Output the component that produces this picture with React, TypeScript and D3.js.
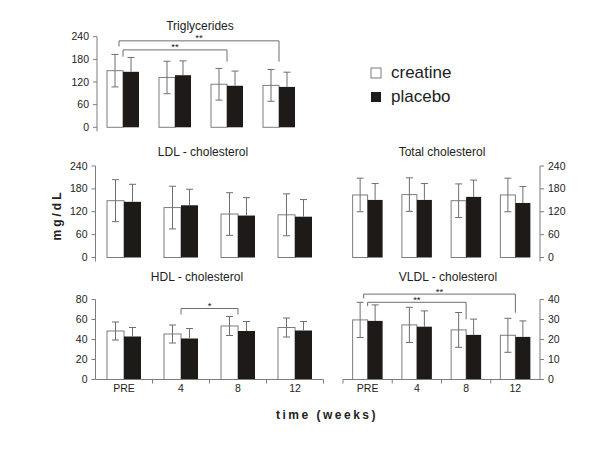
import React from "react";
import * as d3 from "d3";

// ---------- data ----------
const weeks = ["PRE", "4", "8", "12"];

const trigCreatine = [150, 132, 114, 111];
const trigCreatineSD = [43, 43, 42, 42];
const trigPlacebo = [147, 138, 110, 107];
const trigPlaceboSD = [38, 38, 39, 39];

const ldlCreatine = [149, 131, 114, 112];
const ldlCreatineSD = [55, 56, 56, 55];
const ldlPlacebo = [146, 137, 110, 107];
const ldlPlaceboSD = [46, 42, 47, 45];

const totalCreatine = [164, 165, 149, 164];
const totalCreatineSD = [44, 44, 44, 44];
const totalPlacebo = [151, 151, 159, 143];
const totalPlaceboSD = [43, 43, 44, 43];

const hdlCreatine = [48.5, 45.5, 53.5, 52];
const hdlCreatineSD = [9, 9, 9.5, 9.5];
const hdlPlacebo = [43, 41, 48.5, 49];
const hdlPlaceboSD = [9, 10, 9.5, 9];

const vldlCreatine = [29.8, 27.3, 24.8, 22.1];
const vldlCreatineSD = [8.8, 8.8, 8.7, 8.5];
const vldlPlacebo = [29.3, 26.4, 22.3, 21.3];
const vldlPlaceboSD = [8, 7.9, 7.9, 8];

const cholTicks = [0, 60, 120, 180, 240];
const hdlTicks = [0, 20, 40, 60, 80];
const vldlTicks = [0, 10, 20, 30, 40];

// significance brackets: from group, to group, level, left end, right end (data units)
const trigBrackets = [
  { from: 0, to: 3, level: 229, endFrom: 214, endTo: 174, label: "**", outer: true },
  { from: 0, to: 2, level: 205, endFrom: 187, endTo: 174, label: "**", outer: false },
];
const hdlBrackets = [
  { from: 1, to: 2, level: 71, endFrom: 65, endTo: 65, label: "*", outer: false },
];
const vldlBrackets = [
  { from: 0, to: 3, level: 42.7, endFrom: 40.6, endTo: 33.4, label: "**", outer: true },
  { from: 0, to: 2, level: 38.6, endFrom: 36.7, endTo: 30.1, label: "**", outer: false },
];

// ---------- style ----------
const FONT = "'Liberation Sans', Arial, Helvetica, sans-serif";
const AXIS = "#7d7d7d";
const ERR = "#6f6f6f";
const BLACK = "#1e1a18";
const TEXT = "#222";

type Bracket = { from: number; to: number; level: number; endFrom: number; endTo: number; label: string; outer: boolean };

type PanelDef = {
  title: string;
  creatine: number[];
  creatineSD: number[];
  placebo: number[];
  placeboSD: number[];
  ticks: number[];
  brackets: Bracket[];
  x0: number;
  x1: number;
  y0: number;
  y1: number;
  barW: number;
  axisSide: "left" | "right";
  xAxis: boolean;
  titleX: number;
  titleY: number;
};

const panels: PanelDef[] = [
  {
    title: "Triglycerides",
    creatine: trigCreatine, creatineSD: trigCreatineSD,
    placebo: trigPlacebo, placeboSD: trigPlaceboSD,
    ticks: cholTicks, brackets: trigBrackets,
    x0: 97, x1: 305, y0: 127.3, y1: 36.7, barW: 16,
    axisSide: "left", xAxis: false, titleX: 200, titleY: 26,
  },
  {
    title: "LDL - cholesterol",
    creatine: ldlCreatine, creatineSD: ldlCreatineSD,
    placebo: ldlPlacebo, placeboSD: ldlPlaceboSD,
    ticks: cholTicks, brackets: [],
    x0: 95.5, x1: 323.5, y0: 257.5, y1: 166, barW: 17,
    axisSide: "left", xAxis: false, titleX: 203, titleY: 152,
  },
  {
    title: "Total cholesterol",
    creatine: totalCreatine, creatineSD: totalCreatineSD,
    placebo: totalPlacebo, placeboSD: totalPlaceboSD,
    ticks: cholTicks, brackets: [],
    x0: 343, x1: 540, y0: 257.5, y1: 166, barW: 15,
    axisSide: "right", xAxis: false, titleX: 442, titleY: 152,
  },
  {
    title: "HDL - cholesterol",
    creatine: hdlCreatine, creatineSD: hdlCreatineSD,
    placebo: hdlPlacebo, placeboSD: hdlPlaceboSD,
    ticks: hdlTicks, brackets: hdlBrackets,
    x0: 95.5, x1: 323.5, y0: 379.5, y1: 299.5, barW: 17,
    axisSide: "left", xAxis: true, titleX: 197, titleY: 277,
  },
  {
    title: "VLDL - cholesterol",
    creatine: vldlCreatine, creatineSD: vldlCreatineSD,
    placebo: vldlPlacebo, placeboSD: vldlPlaceboSD,
    ticks: vldlTicks, brackets: vldlBrackets,
    x0: 343, x1: 540, y0: 379.5, y1: 299.5, barW: 15,
    axisSide: "right", xAxis: true, titleX: 448, titleY: 277,
  },
];

function Panel({ p }: { p: PanelDef }) {
  const x = d3.scaleBand<string>().domain(weeks).range([p.x0, p.x1]);
  const max = p.ticks[p.ticks.length - 1];
  const y = d3.scaleLinear().domain([0, max]).range([p.y0, p.y1]);
  const axisX = p.axisSide === "left" ? p.x0 : p.x1;
  const dir = p.axisSide === "left" ? -1 : 1;
  const cap = 3.5;
  const cx = (w: string) => (x(w) as number) + x.bandwidth() / 2;

  return (
    <g>
      <text x={p.titleX} y={p.titleY + 4.3} textAnchor="middle" fontSize={12} fontFamily={FONT} fill={TEXT}>
        {p.title}
      </text>

      {/* bars */}
      {weeks.map((w, i) => {
        const c = cx(w);
        const cv = p.creatine[i];
        const pv = p.placebo[i];
        const cs = p.creatineSD[i];
        const ps = p.placeboSD[i];
        const cxBar = c - p.barW / 2;
        const pxBar = c + p.barW / 2;
        return (
          <g key={w}>
            <rect x={c - p.barW} y={y(cv)} width={p.barW} height={y(0) - y(cv)} fill="#fff" stroke={AXIS} strokeWidth={1} />
            <rect x={c} y={y(pv)} width={p.barW} height={y(0) - y(pv)} fill={BLACK} />
            {/* creatine error bar (both directions) */}
            <line x1={cxBar} x2={cxBar} y1={y(cv + cs)} y2={y(cv - cs)} stroke={ERR} strokeWidth={1} />
            <line x1={cxBar - cap} x2={cxBar + cap} y1={y(cv + cs)} y2={y(cv + cs)} stroke={ERR} strokeWidth={1} />
            <line x1={cxBar - cap} x2={cxBar + cap} y1={y(cv - cs)} y2={y(cv - cs)} stroke={ERR} strokeWidth={1} />
            {/* placebo error bar (upper) */}
            <line x1={pxBar} x2={pxBar} y1={y(pv + ps)} y2={y(pv)} stroke={ERR} strokeWidth={1} />
            <line x1={pxBar - cap} x2={pxBar + cap} y1={y(pv + ps)} y2={y(pv + ps)} stroke={ERR} strokeWidth={1} />
          </g>
        );
      })}

      {/* y axis */}
      <line x1={axisX} x2={axisX} y1={y(max)} y2={p.xAxis ? y(0) : y(0) + 4} stroke={AXIS} strokeWidth={1} />
      {p.ticks.map((t) => (
        <g key={t}>
          <line x1={axisX} x2={axisX + dir * 4} y1={y(t)} y2={y(t)} stroke={AXIS} strokeWidth={1} />
          <text
            x={axisX + dir * 8}
            y={y(t) + 3.6}
            textAnchor={p.axisSide === "left" ? "end" : "start"}
            fontSize={10.5}
            fontFamily={FONT}
            fill={TEXT}
          >
            {t}
          </text>
        </g>
      ))}

      {/* x axis */}
      {p.xAxis && (
        <g>
          <line x1={p.x0} x2={p.x1} y1={y(0)} y2={y(0)} stroke={AXIS} strokeWidth={1} />
          {weeks.map((w, i) => {
            const bx = p.axisSide === "left" ? (x(w) as number) + x.bandwidth() : (x(w) as number);
            return <line key={"t" + i} x1={bx} x2={bx} y1={y(0)} y2={y(0) + 4} stroke={AXIS} strokeWidth={1} />;
          })}
          {weeks.map((w) => (
            <text key={"l" + w} x={cx(w)} y={y(0) + 12} textAnchor="middle" fontSize={10.5} fontFamily={FONT} fill={TEXT}>
              {w}
            </text>
          ))}
        </g>
      )}

      {/* significance brackets */}
      {p.brackets.map((b, i) => {
        const xa = cx(weeks[b.from]) + (b.outer ? -4 : 0);
        const xb = cx(weeks[b.to]);
        const yl = y(b.level);
        return (
          <g key={"b" + i}>
            <path
              d={`M${xa},${y(b.endFrom)}V${yl}H${xb}V${y(b.endTo)}`}
              fill="none"
              stroke={ERR}
              strokeWidth={1}
            />
            <text x={(xa + xb) / 2} y={yl + 0.5} textAnchor="middle" fontSize={9.5} fontFamily={FONT} fill={TEXT}>
              {b.label}
            </text>
          </g>
        );
      })}
    </g>
  );
}

export default function App() {
  return (
    <svg
      width={600}
      height={450}
      viewBox="0 0 600 450"
      style={{ position: "absolute", left: 0, top: 0, background: "#fff" }}
    >
      <rect x={0} y={0} width={600} height={450} fill="#fff" />
      {panels.map((p) => (
        <Panel key={p.title} p={p} />
      ))}

      {/* legend */}
      <rect x={371} y={68} width={10} height={10} fill="#fff" stroke={AXIS} strokeWidth={1} />
      <text x={391} y={77.5} fontSize={17} fontFamily={FONT} fill={TEXT}>creatine</text>
      <rect x={371} y={92} width={10} height={10} fill={BLACK} />
      <text x={391} y={101.5} fontSize={17} fontFamily={FONT} fill={TEXT}>placebo</text>

      {/* axis titles */}
      <text
        transform="translate(61,215) rotate(-90)"
        textAnchor="middle"
        fontSize={12}
        fontWeight="bold"
        fontFamily={FONT}
        letterSpacing={3}
        fill={TEXT}
      >
        mg/dL
      </text>
      <text x={327} y={419} textAnchor="middle" fontSize={12} fontWeight="bold" fontFamily={FONT} letterSpacing={2.5} fill={TEXT}>
        time (weeks)
      </text>
    </svg>
  );
}
